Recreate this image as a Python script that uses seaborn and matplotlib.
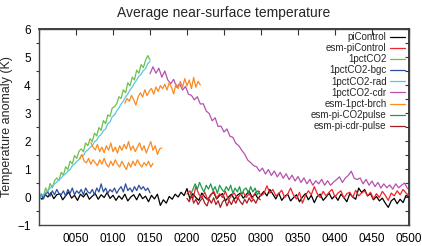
import matplotlib
matplotlib.use("Agg")
import matplotlib.pyplot as plt
from matplotlib.ticker import MultipleLocator
import numpy as np
import pandas as pd
import seaborn as sns

sns.set_theme(style="white")
plt.rcParams['font.family'] = ['Liberation Sans', 'DejaVu Sans']

# start year and step (years) for each series
pi_control = [0.02, -0.08, 0.1, 0.0, 0.15, -0.06, 0.08, 0.12, -0.1, 0.04, 0.18, -0.04, 0.06, -0.12, 0.1, 0.0,
              0.14, -0.08, 0.03, 0.12, -0.08, 0.08, -0.02, 0.16, -0.05,
              0.06, -0.12, 0.04, -0.08, 0.1, -0.14, 0.0, 0.08, -0.1, 0.12, -0.06, 0.03, -0.17, 0.06, -0.07,
              0.1, -0.3, -0.1, -0.22, 0.02, -0.08, 0.1, 0.0, 0.17, 0.05,
              0.3, -0.07, 0.12, -0.02, -0.12, 0.14, 0.0, -0.1, 0.08, 0.17, -0.07, 0.05, 0.12, -0.14, 0.0,
              0.1, -0.08, 0.06, 0.14, -0.04, 0.08, 0.22, -0.02, 0.12, -0.06,
              0.08, 0.2, 0.04, 0.27, 0.1, -0.07, 0.14, -0.12, 0.02, 0.1, -0.14, -0.02, 0.08, -0.17, 0.0,
              0.12, -0.1, 0.06, -0.2, 0.02, 0.1, -0.12, 0.0, 0.14, -0.07,
              0.05, -0.12, 0.1, -0.02, -0.17, 0.12, 0.0, -0.08, 0.32, 0.16, 0.27, 0.04, 0.12, -0.1, 0.02,
              -0.14, -0.04, -0.22, -0.37, -0.14, -0.05, -0.24, -0.08, -0.2, 0.06, 0.0]
esm_pi_control = [0.1, 0.22, -0.07, 0.37, 0.1, -0.02, 0.17, -0.1, 0.05, 0.22, -0.04, 0.12, -0.02, 0.2, -0.12,
                  0.05, 0.14, -0.07, 0.1, 0.17,
                  -0.02, 0.12, -0.07, 0.14, 0.22, 0.04, 0.12, 0.4, 0.14, 0.27, 0.04, 0.12, 0.24, -0.02, 0.1,
                  0.32, 0.06, -0.07, 0.17, -0.22,
                  0.05, 0.22, 0.08, 0.37, 0.12, -0.02, 0.2, 0.04, 0.17, 0.27, 0.0, 0.14, 0.22, -0.04, 0.12,
                  0.17, -0.02, 0.24, 0.04, 0.14,
                  0.22, 0.04, 0.17, -0.07, 0.12, -0.02, 0.2, 0.06, -0.12, 0.14, 0.04, 0.22, 0.08, 0.27, 0.14, 0.05]
pct_co2 = [-0.1, 0.12, 0.02, 0.32, 0.18, 0.48, 0.33, 0.58, 0.68, 0.58, 0.88, 0.78, 1.08, 0.98, 1.28, 1.18,
           1.48, 1.38, 1.63, 1.72, 1.62, 1.93, 1.83, 2.08, 1.98, 2.28, 2.18, 2.48, 2.38, 2.73, 2.62, 2.93,
           2.88, 3.18, 3.22, 3.33, 3.58, 3.52, 3.83, 3.72, 4.08, 3.97, 4.28, 4.18, 4.53, 4.42, 4.73, 4.62,
           4.88, 5.05, 4.9]
pct_co2_bgc = [0.0, 0.07, -0.07, 0.12, 0.17, 0.03, 0.22, 0.08, 0.27, 0.13, 0.08, 0.22, 0.03, 0.27, 0.13,
               0.32, 0.08, 0.22, 0.13, 0.27, 0.08, 0.32, 0.18, 0.13, 0.27, 0.08, 0.32, 0.18, 0.47, 0.18,
               0.32, 0.13, 0.27, 0.18, 0.32, 0.13, 0.27, 0.37, 0.18, 0.47, 0.23, 0.32, 0.18, 0.37, 0.23,
               0.42, 0.28, 0.37, 0.23, 0.32, 0.15]
pct_co2_rad = [-0.15, 0.07, 0.08, 0.17, 0.23, 0.32, 0.38, 0.47, 0.53, 0.62, 0.68, 0.77, 0.83, 0.92, 0.98,
               1.12, 1.18, 1.27, 1.33, 1.47, 1.48, 1.62, 1.68, 1.77, 1.83, 1.97, 2.03, 2.17, 2.23, 2.37,
               2.43, 2.62, 2.68, 2.87, 2.93, 3.07, 3.18, 3.32, 3.43, 3.57, 3.68, 3.82, 3.93, 4.07, 4.18,
               4.32, 4.38, 4.52, 4.58, 4.77, 4.85]
pct_co2_cdr = [4.4, 4.65, 4.42, 4.6, 4.28, 4.5, 4.18, 4.05, 4.2, 3.92, 4.05, 3.82, 3.95, 3.67, 3.63, 3.47,
               3.58, 3.32, 3.33, 3.07, 2.98, 2.72, 2.83, 2.52, 2.53, 2.32, 2.43, 2.17, 2.13, 1.92, 1.83,
               1.67, 1.53, 1.32, 1.23, 1.12, 1.08, 0.92, 1.03, 0.82, 0.98, 0.77, 0.93, 0.72, 0.88, 0.67,
               0.83, 0.62, 0.78, 0.57, 0.73, 0.52, 0.68, 0.47, 0.63, 0.42, 0.58, 0.47, 0.63, 0.42, 0.58,
               0.42, 0.53, 0.62, 0.72, 0.52, 0.68, 0.77, 0.92, 0.67, 0.62, 0.68, 0.47, 0.63, 0.42, 0.57,
               0.37, 0.52, 0.32, 0.47, 0.33, 0.43, 0.28, 0.47, 0.33, 0.42, 0.5, 0.3]
brch_high = [3.35, 3.52, 3.42, 3.63, 3.47, 3.28, 3.58, 3.72, 3.57, 3.83, 3.62, 3.78, 3.88, 3.67, 3.93, 3.77,
             3.98, 3.87, 4.03, 3.82, 4.08, 3.92, 3.68, 4.03, 3.87, 4.13, 3.92, 4.23, 3.97, 4.18, 3.87,
             4.27, 3.92, 4.13, 4.0]
brch_mid = [1.95, 1.78, 1.68, 1.88, 1.62, 1.78, 1.58, 1.83, 1.67, 1.93, 1.62, 1.78, 1.57, 1.83, 1.67, 1.88,
            1.72, 1.98, 1.67, 1.83, 1.62, 1.78, 1.93, 1.67, 1.83, 1.57, 1.78, 1.98, 1.67, 1.83, 1.52,
            1.72, 1.75]
brch_low = [1.35, 1.52, 1.28, 1.22, 1.38, 1.17, 1.33, 1.22, 1.12, 1.33, 1.17, 1.38, 1.17, 1.07, 1.28, 1.12,
            1.33, 1.17, 1.07, 1.28, 1.12, 0.98, 1.23, 1.07, 1.28, 1.12, 1.33, 1.17, 1.07, 1.23, 1.12,
            1.28, 1.07, 1.2]
co2_pulse = [0.1, 0.27, 0.47, 0.28, 0.52, 0.33, 0.18, 0.42, 0.28, 0.47, 0.23, 0.37, 0.13, 0.42, 0.28, 0.18,
             0.37, 0.23, 0.42, 0.13, 0.32, 0.18, 0.37, 0.08, 0.27, 0.32, 0.13, 0.37, 0.18, 0.32, 0.08, 0.2]
cdr_pulse = [-0.05, -0.17, 0.07, -0.22, -0.08, -0.27, -0.13, -0.03, -0.22, -0.32, -0.08, -0.22, -0.03,
             -0.27, -0.13, -0.37, -0.18, -0.08, -0.32, -0.13, -0.27, -0.08, -0.22, -0.03, -0.17, -0.27,
             -0.08, -0.22, -0.03, -0.17, -0.08, -0.22, -0.03, -0.1]

# (label, values, start year, step, colour)
series = [
    ("piControl", pi_control, 0, 4, "black"),
    ("esm-piControl", esm_pi_control, 200, 4, "#f4222a"),
    ("1pctCO2", pct_co2, 0, 3, "#6cc04a"),
    ("1pctCO2-bgc", pct_co2_bgc, 0, 3, "#2f4ea2"),
    ("1pctCO2-rad", pct_co2_rad, 0, 3, "#58c7e2"),
    ("1pctCO2-cdr", pct_co2_cdr, 150, 4, "#b452ad"),
    ("esm-1pct-brch", brch_high, 116, 3, "#fb8a22"),
    ("esm-1pct-brch", brch_mid, 70, 3, "#fb8a22"),
    ("esm-1pct-brch", brch_low, 55, 3, "#fb8a22"),
    ("esm-pi-CO2pulse", co2_pulse, 205, 3, "#1f9a4e"),
    ("esm-pi-cdr-pulse", cdr_pulse, 200, 3, "#a51e22"),
]

fig = plt.figure(figsize=(4.22, 2.46), dpi=100)
ax = fig.add_axes([39 / 422, 1 - 225 / 246, 370 / 422, 196 / 246])

handles = {}
for label, vals, start, step, col in series:
    df = pd.DataFrame({"year": start + step * np.arange(len(vals)), "tas": vals})
    sns.lineplot(data=df, x="year", y="tas", color=col, linewidth=0.9, ax=ax)
    handles.setdefault(label, ax.lines[-1])

ax.set_xlim(0, 500)
ax.set_ylim(-1, 6)
ax.set_xticks(range(0, 501, 50))
ax.set_xticklabels([""] + ["%04d" % y for y in range(50, 501, 50)])
ax.yaxis.set_major_locator(MultipleLocator(1))
ax.yaxis.set_minor_locator(MultipleLocator(0.5))
ax.tick_params(axis="both", which="major", direction="out", length=4, width=0.8,
               labelsize=8.5, colors="#333333", pad=2, labelcolor="black")
ax.tick_params(axis="y", which="minor", direction="out", length=2, width=0.8, left=True, colors="#333333")
ax.set_xlabel("")
ax.set_ylabel("Temperature anomaly (K)", fontsize=9, labelpad=3)
ax.set_title("Average near-surface temperature", fontsize=10, pad=9)

for s in ax.spines.values():
    s.set_color("#444444")
    s.set_linewidth(1.0)

# inward ticks on top and right
top = ax.secondary_xaxis("top")
top.set_xticks(range(0, 501, 50))
top.tick_params(direction="in", length=4, width=0.8, labeltop=False, colors="#333333")
right = ax.secondary_yaxis("right")
right.set_yticks(np.arange(-1, 6.01, 0.5))
right.tick_params(direction="in", length=3, width=0.8, labelright=False, colors="#333333")

ax.legend(list(handles.values()), list(handles.keys()), loc="upper right",
          bbox_to_anchor=(0.989, 0.985), frameon=False, markerfirst=False, fontsize=7,
          handlelength=1.5, handletextpad=0.4, labelspacing=0.12, borderpad=0, borderaxespad=0)

fig.savefig("out.png", dpi=100)
